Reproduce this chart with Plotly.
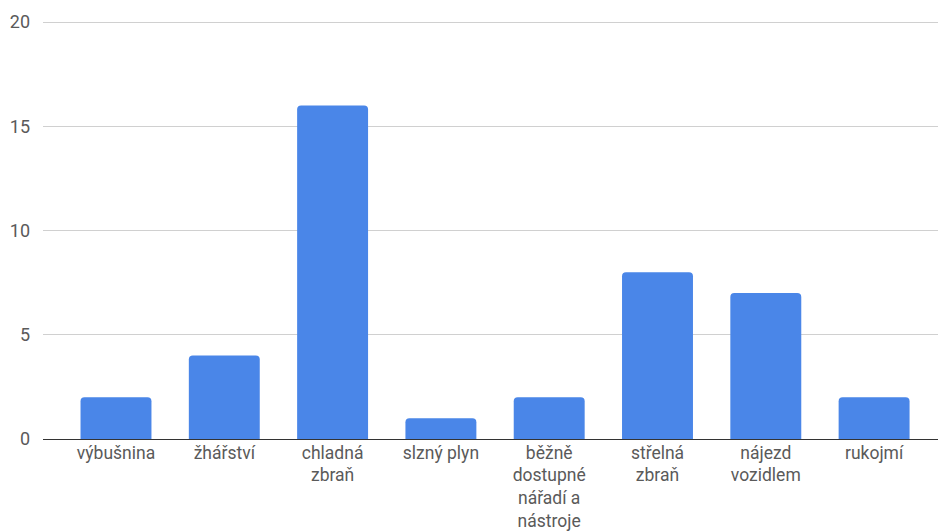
import plotly.graph_objects as go

categories = ["výbušnina", "žhářství", "chladná<br>zbraň", "slzný plyn",
              "běžně<br>dostupné<br>nářadí a<br>nástroje", "střelná<br>zbraň",
              "nájezd<br>vozidlem", "rukojmí"]
values = [2, 4, 16, 1, 2, 8, 7, 2]
y_ticks = [0, 5, 10, 15, 20]

fig = go.Figure(go.Bar(
    x=categories, y=values,
    marker=dict(color="#4a86e8", line=dict(width=0), cornerradius=4),
    width=0.655,
))

fig.update_layout(
    width=938, height=531,
    margin=dict(l=43, r=0, t=21, b=92, autoexpand=False),
    paper_bgcolor="white", plot_bgcolor="white",
    font=dict(family="Roboto", size=18, color="#5a5a5a"),
    showlegend=False,
    xaxis=dict(range=[-0.674, 7.59], showgrid=False, showline=False, automargin=False,
               ticks="", ticklabelstandoff=1, tickfont=dict(size=17.5, color="#5a5a5a")),
    yaxis=dict(range=[0, 20.05], tickvals=y_ticks, showgrid=True, gridcolor="#d0d0d0",
               gridwidth=1, zeroline=True, zerolinecolor="#333333", zerolinewidth=1.3,
               showline=False, ticks="", ticklabelstandoff=12, automargin=False,
               tickfont=dict(size=18, color="#5a5a5a")),
)

fig.write_html("out.html", config={"displayModeBar": False},
               post_script="document.body.style.margin='0';document.body.style.overflow='hidden';")
